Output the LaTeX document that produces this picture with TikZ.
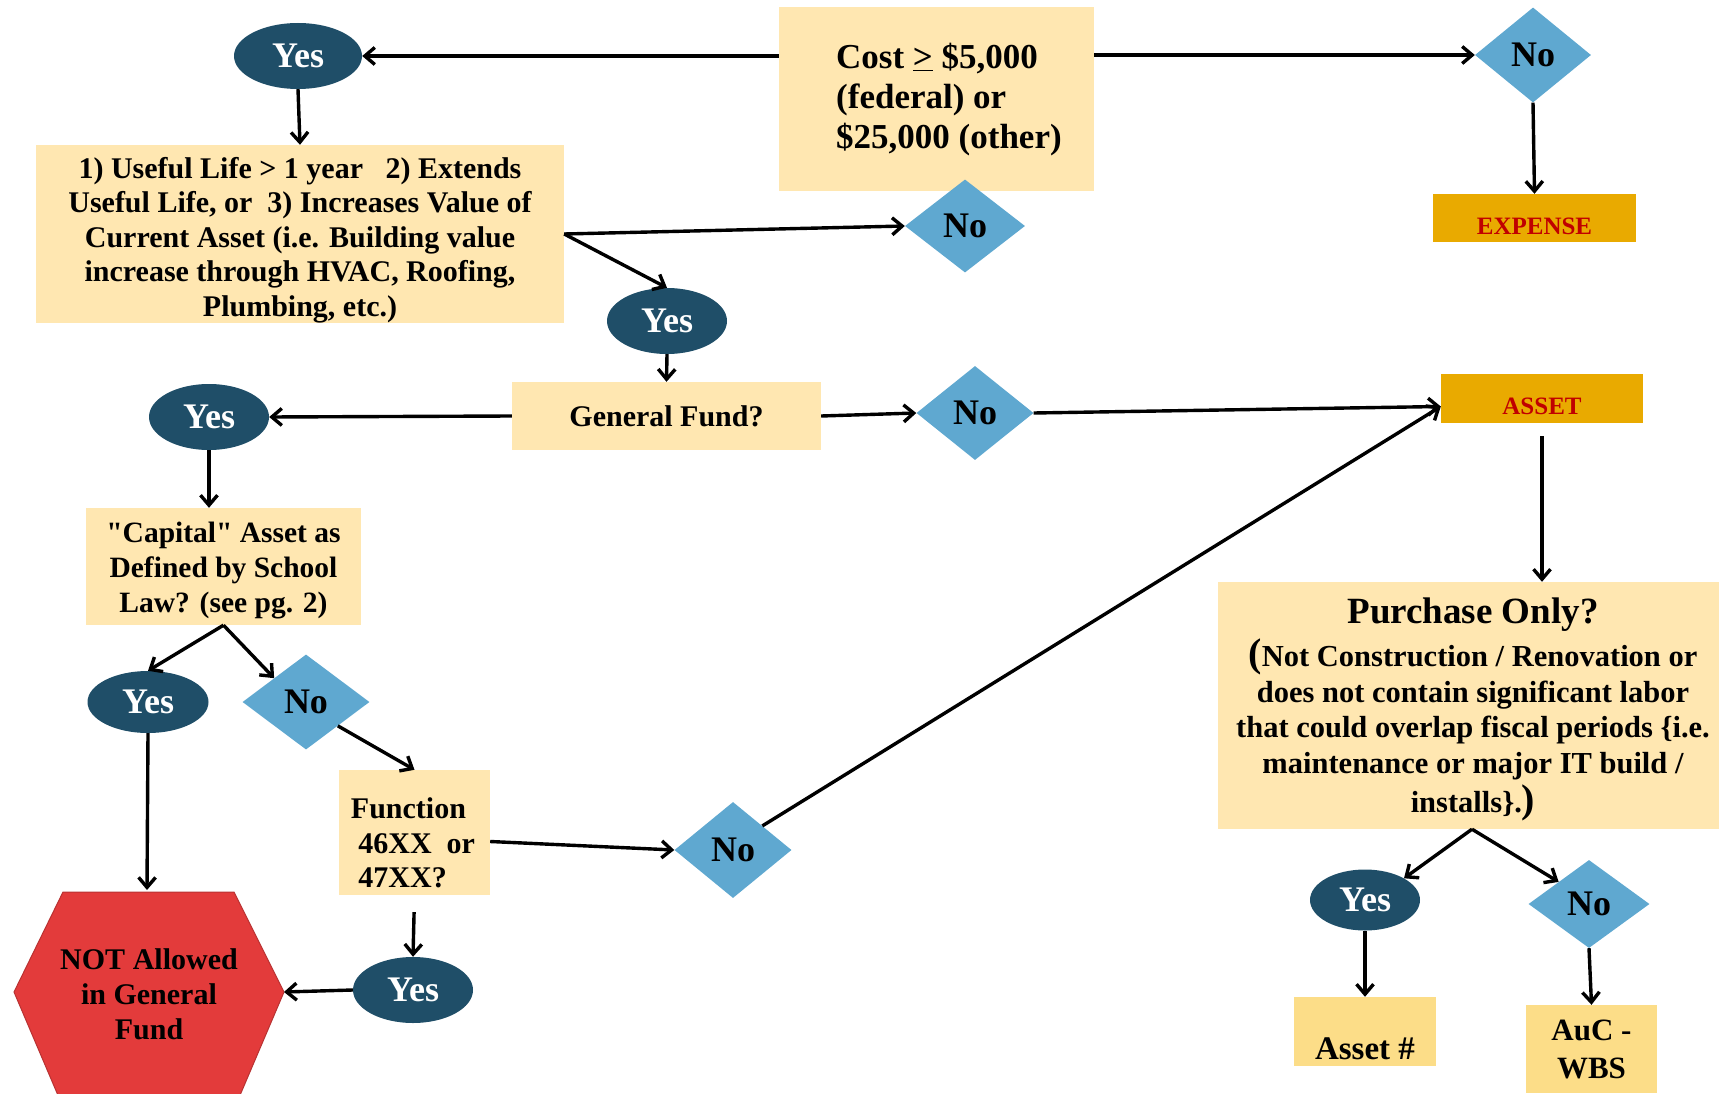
\documentclass[tikz,border=0pt]{standalone}
\usepackage{fontspec}
\setmainfont{Liberation Serif}[Ligatures=TeXOff]
\usetikzlibrary{shapes.geometric,arrows.meta}
\definecolor{peach}{HTML}{FFE7B1}
\definecolor{goldbox}{HTML}{FCDD88}
\definecolor{yesblue}{HTML}{1F4E68}
\definecolor{noblue}{HTML}{5FA8D0}
\definecolor{orangebox}{HTML}{E9AA00}
\definecolor{redtext}{HTML}{C00000}
\definecolor{hexred}{HTML}{E33B3B}
\definecolor{hexedge}{HTML}{B83232}
\newcommand{\fs}[2]{\fontsize{#1}{#2}\selectfont\bfseries}
\begin{document}
\begin{tikzpicture}[x=1pt,y=-1pt,
  every node/.style={inner sep=0pt},
  yesnode/.style={ellipse, fill=yesblue, text=white, font=\fs{36}{40}},
  nonode/.style={diamond, fill=noblue, text=black, font=\fs{36}{40}},
  box/.style={rectangle, fill=peach, align=center},
  result/.style={rectangle, fill=orangebox, text=redtext, font=\fs{25}{30}},
  conn/.style={line width=3.4pt, -{Straight Barb[length=10pt,width=17pt]}}
]
\useasboundingbox (0,0) rectangle (1719,1094);
\clip (0,0) rectangle (1719,1094);

% hexagon
\fill[hexred, draw=hexedge, line width=1pt] (63,892) -- (234,892) -- (284,992) -- (238,1100) -- (60,1100) -- (14,992) -- cycle;
\node[align=center, font=\fs{30}{35}] (notallowed) at (149,994) {NOT Allowed\\in General\\Fund};
\coordinate (hexR) at (284,992);
\coordinate (hexT) at (147,890);

% nodes
\node[yesnode, minimum width=128, minimum height=66] (yes1) at (298,56) {Yes};
\node[box, minimum width=315, minimum height=184] (cost) at (936.5,99) {};
\node[align=left, anchor=west, font=\fs{35}{40}] (costtext) at (836,100) {Cost \underline{>} \$5,000\\(federal) or\\\$25,000 (other)};
\node[nonode, minimum width=116, minimum height=95] (no1) at (1533,55) {No};
\node[result, minimum width=203, minimum height=48, text height=34pt, text depth=0pt] (expense) at (1534.5,218) {EXPENSE};

\node[box, minimum width=528, minimum height=178] (useful) at (300,234) {};
\node[align=center, font=\fs{30}{34.5}] (usefultext) at (300,240)
  {1) Useful Life > 1 year \ \ 2) Extends\\Useful Life, or \ 3) Increases Value of\\Current Asset (i.e. Building value\\increase through HVAC, Roofing,\\Plumbing, etc.)};
\node[nonode, minimum width=120, minimum height=93] (no2) at (965,226) {No};
\node[yesnode, minimum width=120, minimum height=66] (yes2) at (667,321) {Yes};

\node[box, minimum width=309, minimum height=68, font=\fs{30}{35}] (gf) at (666.5,416) {General Fund?};
\node[yesnode, minimum width=120, minimum height=66] (yes3) at (209,417) {Yes};
\node[nonode, minimum width=117, minimum height=94] (no3) at (975,413) {No};
\node[result, minimum width=202, minimum height=49, text height=32pt, text depth=0pt] (asset) at (1542,398.5) {ASSET};
\coordinate (assetin) at ([yshift=-8pt]asset.west);

\node[box, minimum width=275, minimum height=117] (capital) at (223.5,566.5) {};
\node[align=center, font=\fs{29.5}{35}] (capitaltext) at (223.5,571) {"Capital" Asset as\\Defined by School\\Law? (see pg. 2)};
\node[yesnode, minimum width=121, minimum height=62] (yes4) at (148,702) {Yes};
\node[nonode, minimum width=127, minimum height=95] (no4) at (306,702) {No};

\node[box, minimum width=151, minimum height=125] (func) at (414.5,832.5) {};
\node[align=left, font=\fs{30}{34.5}] (functext) at (413,843) {Function\\\ 46XX\ \ or\\\ 47XX?};
\node[nonode, minimum width=117, minimum height=96] (no5) at (733,850) {No};
\node[yesnode, minimum width=120, minimum height=66] (yes5) at (413,990) {Yes};

\node[box, minimum width=508, minimum height=247] (purchase) at (1472,705.5) {};
\node[align=center, font=\fs{37}{42}] (ptitle) at (1473,615) {Purchase Only?};
\node[align=center, font=\fs{30.5}{35.6}] (ptext) at (1473,730)
  {{\fontsize{40}{40}\selectfont(}Not Construction / Renovation or\\does not contain significant labor\\that could overlap fiscal periods \{i.e.\\maintenance or major IT build /\\[4pt]installs\}.{\fontsize{40}{40}\selectfont)}};
\node[yesnode, minimum width=110, minimum height=61] (yes6) at (1365,900) {Yes};
\node[nonode, minimum width=121, minimum height=88] (no6) at (1589,904) {No};
\node[rectangle, fill=goldbox, minimum width=142, minimum height=69, text height=56pt, text depth=0pt, font=\fs{33}{38}] (assetnum) at (1365,1031.5) {Asset \#};
\node[rectangle, fill=goldbox, minimum width=131, minimum height=88, align=center, font=\fs{31}{38}] (auc) at (1591.5,1049) {AuC -\\WBS};

% connectors
\draw[conn] (cost.west |- yes1.east) -- (yes1.east);
\draw[conn] (cost.east |- no1.west) -- (no1.west);
\draw[conn] (no1.south) -- (expense.north);
\draw[conn] (yes1.south) -- (useful.north);
\draw[conn] (useful.east) -- (no2.west);
\draw[conn] (useful.east) -- (yes2.north);
\draw[conn] (yes2.south) -- (gf.north);
\draw[conn] (gf.west) -- (yes3.east);
\draw[conn] (gf.east) -- (no3.west);
\draw[conn] (no3.east) -- (assetin);
\draw[conn] (no5.north east) -- (assetin);
\draw[conn] (yes3.south) -- (yes3.south |- capital.north);
\draw[conn] (capital.south) -- (yes4.north);
\draw[conn] (capital.south) -- (no4.north west);
\draw[conn] (no4.south east) -- (func.north);
\draw[conn] (yes4.south) -- (hexT);
\draw[conn] ([yshift=-9pt]func.east) -- (no5.west);
\draw[conn, shorten <=17pt] (func.south) -- (yes5.north);
\draw[conn] (yes5.west) -- (hexR);
\draw[conn, shorten <=13pt] (asset.south) -- (asset.south |- purchase.north);
\draw[conn] (purchase.south) -- (yes6.north east);
\draw[conn] (purchase.south) -- (no6.north west);
\draw[conn] (yes6.south) -- (assetnum.north);
\draw[conn] (no6.south) -- (auc.north);
\end{tikzpicture}
\end{document}
